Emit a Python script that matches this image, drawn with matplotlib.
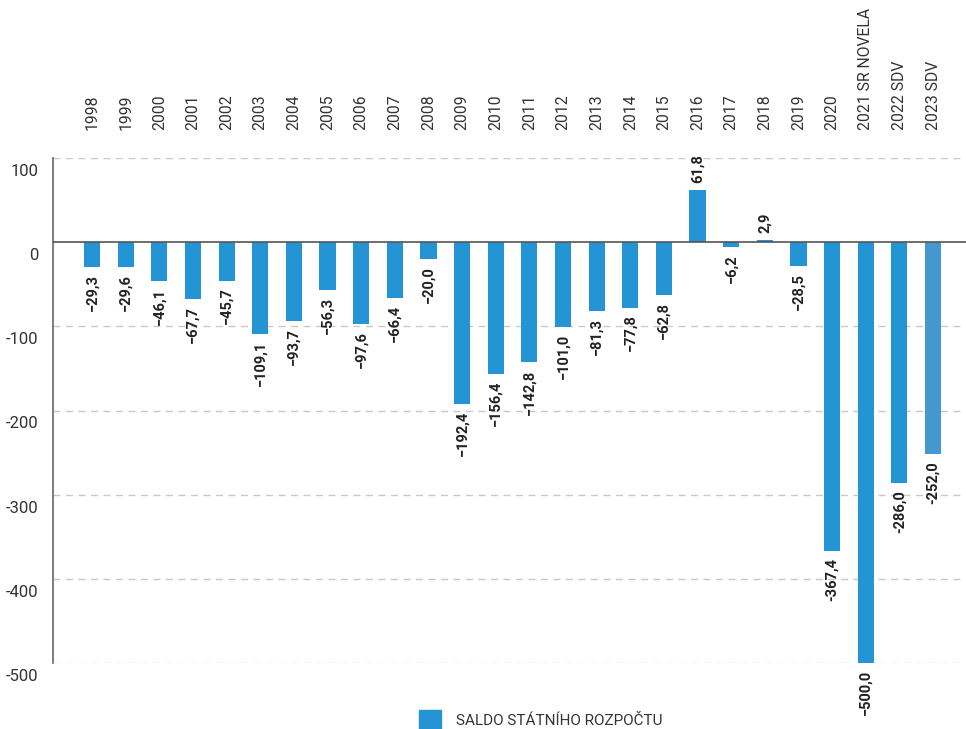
import matplotlib.pyplot as plt
from matplotlib.patches import Rectangle

plt.rcParams['font.family'] = ['Roboto', 'DejaVu Sans']

# --- data ---
years = ['1998', '1999', '2000', '2001', '2002', '2003', '2004', '2005', '2006',
         '2007', '2008', '2009', '2010', '2011', '2012', '2013', '2014', '2015',
         '2016', '2017', '2018', '2019', '2020', '2021 SR NOVELA', '2022 SDV', '2023 SDV']
saldo = [-29.3, -29.6, -46.1, -67.7, -45.7, -109.1, -93.7, -56.3, -97.6,
         -66.4, -20.0, -192.4, -156.4, -142.8, -101.0, -81.3, -77.8, -62.8,
         61.8, -6.2, 2.9, -28.5, -367.4, -500.0, -286.0, -252.0]
hyphen_years = ['2020', '2022 SDV', '2023 SDV']
yticks = [100, 0, -100, -200, -300, -400, -500]

blue = '#2494d4'
colors = [blue] * (len(years) - 1) + ['#4597cf']

fig = plt.figure(figsize=(9.66, 7.29), dpi=100)
ax = fig.add_axes([53 / 966, 1 - 663 / 729, 913 / 966, 505 / 729])

x = list(range(len(years)))
ax.bar(x, saldo, width=0.48, color=colors, zorder=3)

ax.set_ylim(-500, 100)
ax.set_xlim(-1.16, 25.98)

# gridlines
for v in yticks:
    if v != 0:
        ax.axhline(v, color='#c8c8c8', linestyle=(0, (5, 4)), linewidth=1, zorder=1)
ax.axhline(0, color='#555555', linewidth=1.2, zorder=4)

for s in ['top', 'right', 'bottom']:
    ax.spines[s].set_visible(False)
ax.spines['left'].set_color('#666666')
ax.spines['left'].set_linewidth(1.2)

# y labels sit a bit under their gridline
ax.set_yticks([])
for v in yticks:
    ax.text(-0.016, v - 7, str(v), transform=ax.get_yaxis_transform(),
            ha='right', va='top', fontsize=12, color='#333333')

# x labels on top
ax.set_xticks([])
for i, y in enumerate(years):
    ax.text(i, 1.056, y, transform=ax.get_xaxis_transform(), rotation=90,
            ha='center', va='bottom', fontsize=11.3, color='#333333')

# value labels
for i, v in enumerate(saldo):
    txt = f'{abs(v):.1f}'.replace('.', ',')
    if v < 0:
        sign = '-' if years[i] in hyphen_years else '\u2212'
        ax.annotate(sign + txt, (i, v), xytext=(0, -5), textcoords='offset points',
                    rotation=90, ha='center', va='top', fontsize=10.5,
                    fontweight='bold', color='#222222')
    else:
        ax.annotate(txt, (i, v), xytext=(0, 5), textcoords='offset points',
                    rotation=90, ha='center', va='bottom', fontsize=10.5,
                    fontweight='bold', color='#222222')

# legend
fig.patches.append(Rectangle((419 / 966, 0), 22 / 966, 19 / 729,
                             transform=fig.transFigure, color=blue))
fig.text(456 / 966, 8 / 729, 'SALDO STÁTNÍHO ROZPOČTU', fontsize=11,
         color='#333333', va='center', ha='left')

fig.savefig('out.png', dpi=100)
